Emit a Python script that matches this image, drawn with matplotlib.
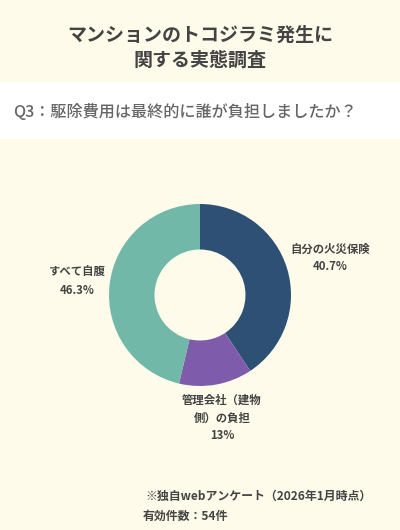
import matplotlib
matplotlib.use("Agg")
import matplotlib.pyplot as plt
from matplotlib.patches import Rectangle

plt.rcParams['font.family'] = ['Noto Sans CJK JP', 'DejaVu Sans']

#données
labels = ["自分の火災保険", "管理会社（建物\n側）の負担", "すべて自腹"]
pct_text = ["40.7%", "13%", "46.3%"]
values = [40.7, 13.0, 46.3]
colors = ["#2d5074", "#7e5bab", "#72b8a9"]

bg = "#fffbeb"
fig = plt.figure(figsize=(4, 5.3), dpi=100, facecolor=bg)

#bandeau blanc de la question
fig.patches.append(Rectangle((0, 1 - 139/530), 1, (139-82)/530, transform=fig.transFigure,
                             facecolor="white", edgecolor="none", zorder=0))

fig.text(0.5, 1 - 35/530, "マンションのトコジラミ発生に", ha="center", va="center",
         fontsize=13.7, fontweight="bold", color="#444444")
fig.text(0.5, 1 - 60/530, "関する実態調査", ha="center", va="center",
         fontsize=13.7, fontweight="bold", color="#444444")
fig.text(13/400, 1 - 112/530, "Q3：駆除費用は最終的に誰が負担しましたか？", ha="left", va="center",
         fontsize=11.6, fontweight="medium", color="#666666")

#donut
cx, cy, r = 200, 295, 91
ax = fig.add_axes([(cx - r)/400, 1 - (cy + r)/530, 2*r/400, 2*r/530])
ax.set_facecolor(bg)
ax.pie(values, colors=colors, startangle=90, counterclock=False,
       wedgeprops=dict(width=0.5, edgecolor="none"))
ax.set_xlim(-1, 1)
ax.set_ylim(-1, 1)
ax.set_aspect("equal")
ax.axis("off")

#étiquettes
lab_pos = [(330, 243), (222, 394), (77, 266)]
for (x, y), lab, p in zip(lab_pos, labels, pct_text):
    fig.text(x/400, 1 - y/530, lab + "\n" + p, ha="center", va="top", fontsize=8.2,
             fontweight="bold", color="#444444", linespacing=1.45)

fig.text(145/400, 1 - 496/530, "※独自webアンケート（2026年1月時点）", ha="left", va="center",
         fontsize=8.6, fontweight="bold", color="#444444")
fig.text(143/400, 1 - 516/530, "有効件数：54件", ha="left", va="center",
         fontsize=8.6, fontweight="bold", color="#444444")

fig.savefig("out.png", dpi=100, facecolor=bg)
